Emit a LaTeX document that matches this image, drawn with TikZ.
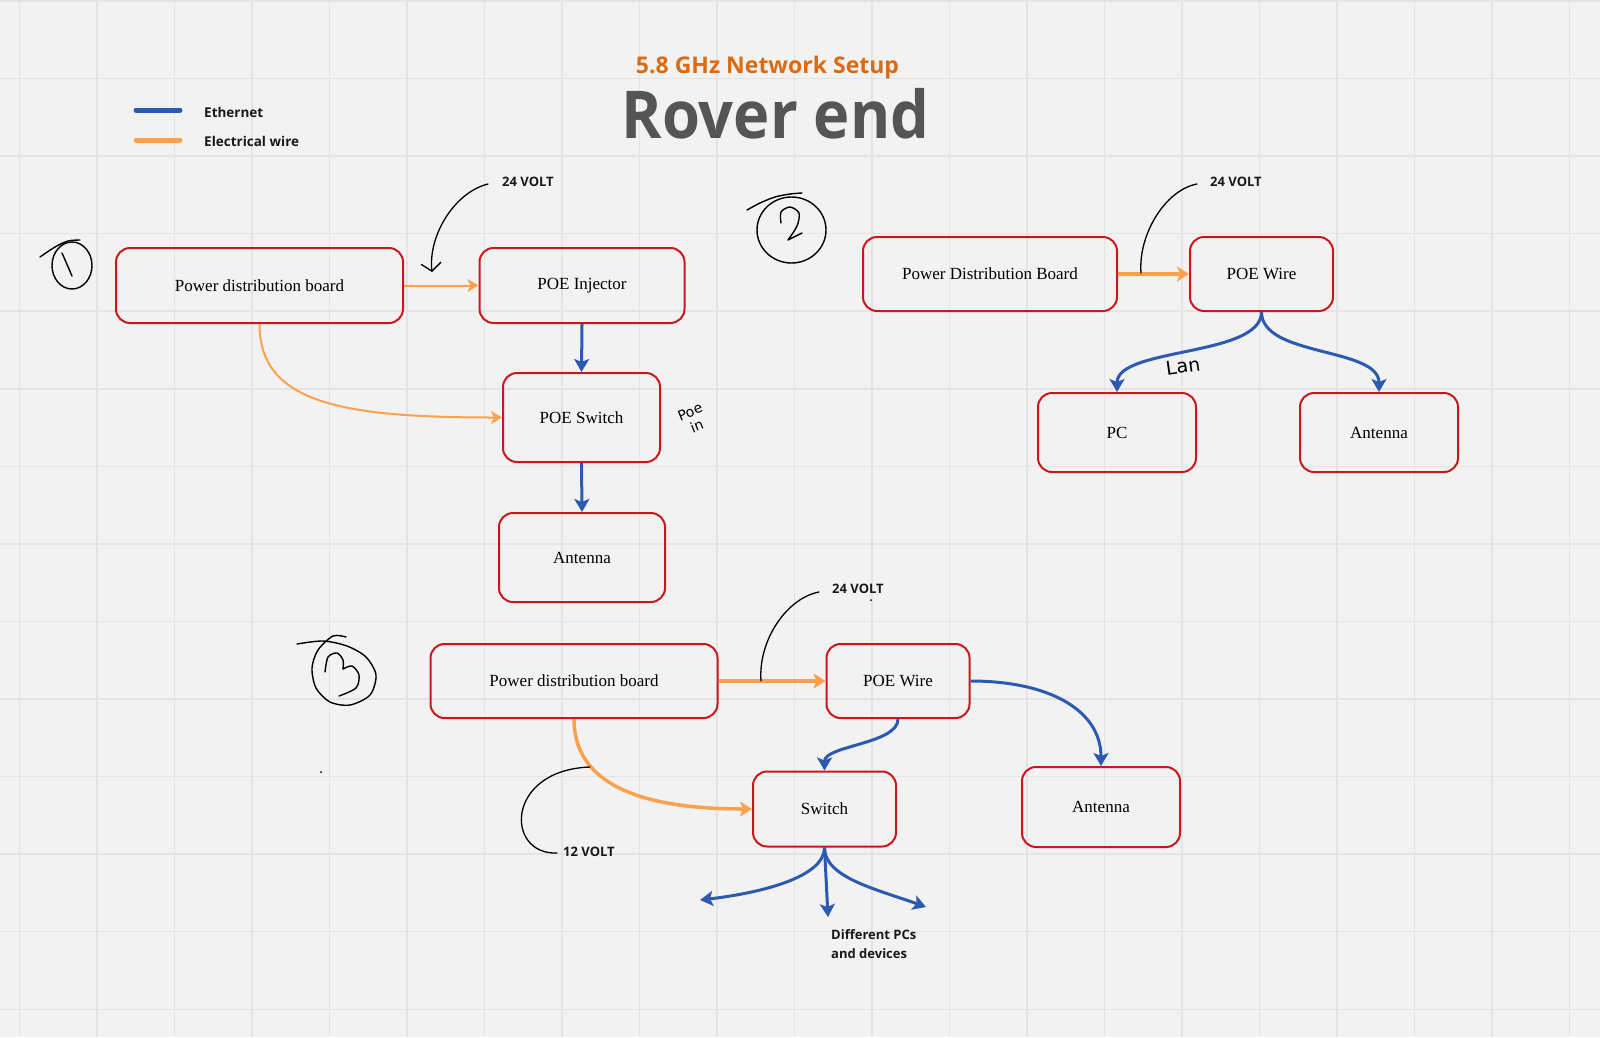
\documentclass[tikz,border=0pt]{standalone}
\usepackage{fontspec}
\usetikzlibrary{arrows.meta}
\newfontfamily\osans{Open Sans}
\newfontfamily\nserif{Liberation Serif}
\newfontfamily\handf{DejaVu Sans}
\definecolor{bgc}{RGB}{242,242,242}
\definecolor{gridc}{RGB}{228,228,228}
\definecolor{boxred}{RGB}{200,24,30}
\definecolor{ethblue}{RGB}{44,90,176}
\definecolor{elecor}{RGB}{255,160,76}
\definecolor{titleor}{RGB}{222,106,16}
\definecolor{roverg}{RGB}{85,85,85}
\tikzset{
  gridline/.style={draw=gridc, line width=1.5pt},
  box/.style={draw=boxred, line width=2pt, rounded corners=14pt, inner sep=0pt,
    font=\nserif\fontsize{17}{20}\selectfont, text=black},
  eth/.style={draw=ethblue, line width=3pt, -{Stealth[length=13pt,width=15pt,inset=3pt]}},
  electhin/.style={draw=elecor, line width=2pt, -{Stealth[length=11pt,width=13pt,inset=3pt]}},
  electhick/.style={draw=elecor, line width=3.5pt, -{Stealth[length=12pt,width=15pt,inset=3pt]}},
  note/.style={draw=black, line width=1.3pt, line cap=round},
  lbl/.style={font=\osans\bfseries\fontsize{13}{16}\selectfont, text=black!90, inner sep=0pt},
  hand/.style={draw=black, line width=1.4pt, line cap=round, line join=round},
  handtxt/.style={font=\handf\fontsize{14}{15}\selectfont, inner sep=0pt}
}
\begin{document}
\begin{tikzpicture}[x=1pt, y=-1pt]
\useasboundingbox (0,0) rectangle (1600,1037);
\fill[bgc] (0,0) rectangle (1600,1037);
\foreach \i in {0,...,20} \draw[gridline] ({19.5+77.5*\i},0) -- ({19.5+77.5*\i},1037);
\foreach \j in {0,...,13} \draw[gridline] (0,{1+77.56*\j}) -- (1600,{1+77.56*\j});

% titles
\node[font=\osans\bfseries\fontsize{23}{26}\selectfont, text=titleor, anchor=base, inner sep=0pt] (t1) at (767.5,73.5) {5.8 GHz Network Setup};
\node[font=\osans\bfseries\fontsize{66}{70}\selectfont, text=roverg, anchor=base, inner sep=0pt] (t2) at (775.5,138) {\scalebox{0.93}[1]{Rover end}};

% legend
\coordinate (lb1) at (136,110); \coordinate (lb2) at (180,110);
\coordinate (lo1) at (136,140); \coordinate (lo2) at (180,140);
\draw[ethblue, line width=5pt, line cap=round] (lb1) -- (lb2);
\draw[elecor, line width=5pt, line cap=round] (lo1) -- (lo2);
\node[lbl, anchor=west, font=\osans\bfseries\fontsize{13.5}{16}\selectfont] (le1) at (204,112) {Ethernet};
\node[lbl, anchor=west, font=\osans\bfseries\fontsize{13.5}{16}\selectfont] (le2) at (204,141) {Electrical wire};

% ---- section 1
\node[box, minimum width=287pt, minimum height=75pt] (pdb1) at (259.5,285.5) {Power distribution board};
\node[box, minimum width=205pt, minimum height=75pt] (inj1) at (582,285.5) {POE Injector};
\node[box, minimum width=157pt, minimum height=89pt] (sw1) at (581.5,417.5) {POE Switch};
\node[box, minimum width=166pt, minimum height=89pt] (ant1) at (582,557.5) {Antenna};
\draw[electhin] (pdb1.east) -- (inj1.west);
\draw[eth] (inj1.south) -- (sw1.north);
\draw[eth] (sw1.south) -- (ant1.north);
\draw[electhin] (pdb1.south) .. controls +(0,79) and +(-161,0) .. (sw1.west);
\node[lbl, anchor=west] (v1) at (502,182) {24 VOLT};
\coordinate (v1a) at (488,184); \coordinate (v1b) at (432,272);
\draw[note, -{Straight Barb[length=8pt,width=20pt]}] (v1a) .. controls (455,192) and (428,235) .. (v1b);
\node[handtxt, rotate=22, align=left] (poein) at (693,419) {Poe\\[1pt]\hspace*{7pt}in};
% circled 1
\draw[hand] plot[smooth] coordinates {(40,257) (55,247) (68,241) (80,240)};
\draw[hand] (72,265.5) ellipse [x radius=20, y radius=23.5];
\draw[hand] (62,253) .. controls (66,262) .. (72,276);

% ---- section 2
\node[box, minimum width=254pt, minimum height=74pt] (pdb2) at (990,274) {Power Distribution Board};
\node[box, minimum width=143pt, minimum height=74pt] (poe2) at (1261.5,274) {POE Wire};
\node[box, minimum width=158pt, minimum height=79pt] (pc2) at (1117,432.5) {PC};
\node[box, minimum width=158pt, minimum height=79pt] (ant2) at (1379,432.5) {Antenna};
\draw[electhick] (pdb2.east) -- (poe2.west);
\draw[eth] (poe2.south) .. controls +(0,45) and +(0,-45) .. (pc2.north);
\draw[eth] (poe2.south) .. controls +(0,45) and +(0,-45) .. (ant2.north);
\node[lbl, anchor=west] (v2) at (1210,182) {24 VOLT};
\coordinate (v2a) at (1197,184); \coordinate (v2b) at (1141,273);
\draw[note] (v2a) .. controls (1165,190) and (1138,235) .. (v2b);
\node[handtxt, rotate=8, font=\handf\fontsize{19}{21}\selectfont] (lan) at (1183,366) {Lan};
% circled 2
\draw[hand] plot[smooth] coordinates {(747,210) (760,203) (775,197) (790,194) (802,193)};
\draw[hand] (791.5,230) ellipse [x radius=34.5, y radius=33];
\draw[hand] plot[smooth] coordinates {(781,223) (781,212) (790,207) (799,213) (797,226) (788,240)} -- (802,233);

% ---- section 3
\node[box, minimum width=287pt, minimum height=74pt] (pdb3) at (574,681) {Power distribution board};
\node[box, minimum width=143pt, minimum height=74pt] (poe3) at (898,681) {POE Wire};
\node[box, minimum width=143pt, minimum height=75pt] (sw3) at (824.5,809) {Switch};
\node[box, minimum width=158pt, minimum height=80pt] (ant3) at (1101,807) {Antenna};
\draw[electhick] (pdb3.east) -- (poe3.west);
\draw[electhick] (pdb3.south) .. controls +(0,63) and +(-116,0) .. (sw3.west);
\draw[eth] (poe3.south) .. controls +(0,25) and +(0,-25) .. (sw3.north);
\draw[eth] (poe3.east) .. controls +(80,0) and +(0,-55) .. (ant3.north);
\coordinate (fL) at (700,900); \coordinate (fD) at (828,917); \coordinate (fR) at (926,907);
\draw[eth] (sw3.south) .. controls +(0,30) and +(60,-7) .. (fL);
\draw[eth] (sw3.south) -- (fD);
\draw[eth] (sw3.south) .. controls +(0,30) and +(-50,-18) .. (fR);
\node[lbl, anchor=north west, align=left, font=\osans\bfseries\fontsize{13}{19}\selectfont] (diff) at (831,929) {Different PCs\\and devices};
\node[lbl, anchor=west] (v3) at (832,589) {24 VOLT};
\coordinate (v3a) at (819,592); \coordinate (v3b) at (761,681);
\draw[note] (v3a) .. controls (787,598) and (758,640) .. (v3b);
\node[lbl, anchor=west] (v12) at (563,852) {12 VOLT};
\coordinate (v12a) at (557,853); \coordinate (v12b) at (590,767);
\draw[note] (v12a) .. controls (505,855) and (505,770) .. (v12b);
% circled 3
\draw[hand] plot[smooth] coordinates {(297,644) (323,641) (347,646) (366,657) (376,675) (370,695) (350,705) (330,702) (316,688) (312,668) (318,650) (333,636) (346,637)};
\draw[hand] plot[smooth] coordinates {(325,672) (328,657) (337,653) (343,660) (343,669)};
\draw[hand] plot[smooth] coordinates {(343,669) (352,666) (359,675) (356,688) (339,696)};
% stray dots
\fill[black] (871,600) circle (1);
\fill[black] (321,772) circle (1);
\end{tikzpicture}
\end{document}
